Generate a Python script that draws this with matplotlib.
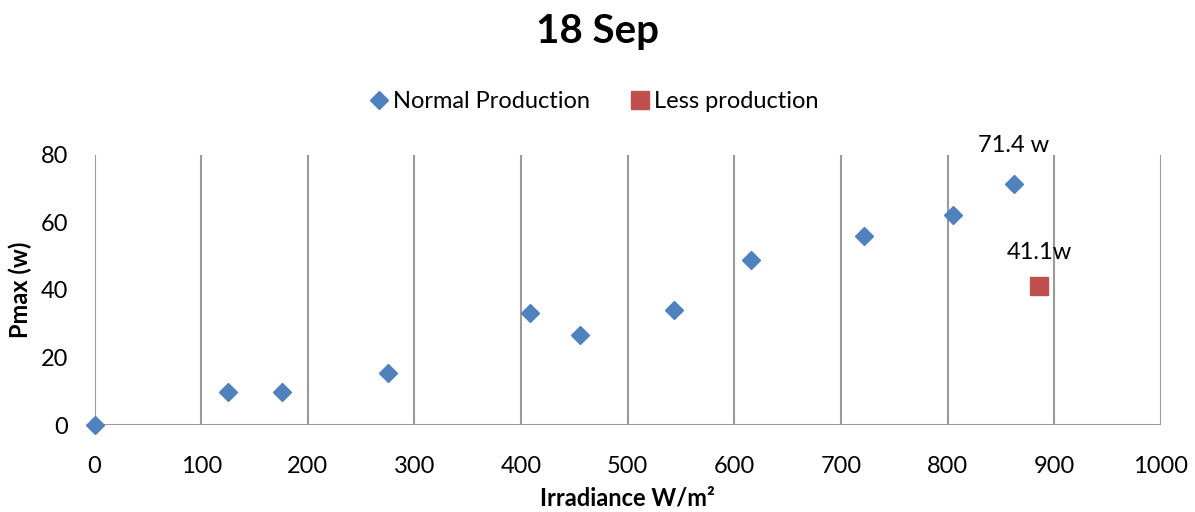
import matplotlib
matplotlib.use("Agg")
import matplotlib.pyplot as plt
from matplotlib.lines import Line2D

plt.rcParams['font.family'] = ['Lato', 'DejaVu Sans']

# Irradiance (W/m²) vs. maximum power (W)
normal_irradiance = [0, 125, 176, 275, 408, 455, 543, 616, 722, 805, 862]
normal_pmax = [0, 9.9, 9.7, 15.5, 33.2, 26.7, 34.0, 48.9, 56.0, 62.2, 71.4]
less_irradiance = [886]
less_pmax = [41.1]

x_ticks = [0, 100, 200, 300, 400, 500, 600, 700, 800, 900, 1000]
y_ticks = [0, 20, 40, 60, 80]

blue = '#4F81BD'
red = '#C0504D'
grid_c = '#9A9A9A'

fig = plt.figure(figsize=(11.95, 5.12), dpi=100)
ax = fig.add_axes([0.0791, 0.1699, 0.8924, 0.5274])

ax.set_xlim(0, 1000)
ax.set_ylim(0, 80)
ax.set_xticks(x_ticks)
ax.set_yticks(y_ticks)

for xv in x_ticks:
    ax.axvline(xv, color=grid_c, lw=1.5, zorder=1)
ax.axhline(0, color=grid_c, lw=1.5, zorder=1)

for s in ax.spines.values():
    s.set_visible(False)

ax.tick_params(axis='both', length=0, labelsize=17)
ax.tick_params(axis='x', pad=22)
ax.tick_params(axis='y', pad=19)

ax.plot(normal_irradiance, normal_pmax, ls='none', marker='D', ms=9.6,
        color=blue, zorder=3, clip_on=False)
ax.plot(less_irradiance, less_pmax, ls='none', marker='s', ms=13,
        color=red, zorder=3, clip_on=False)

ax.annotate(f'{normal_pmax[-1]} w', (normal_irradiance[-1], normal_pmax[-1]),
            xytext=(0, 20), textcoords='offset points', ha='center',
            va='bottom', fontsize=17)
ax.annotate(f'{less_pmax[0]}w', (less_irradiance[0], less_pmax[0]),
            xytext=(0, 17), textcoords='offset points', ha='center',
            va='bottom', fontsize=17)

ax.set_xlabel('Irradiance W/m²', fontsize=17, fontweight='bold', labelpad=7)
ax.set_ylabel('Pmax (w)', fontsize=17, fontweight='bold', labelpad=6)

fig.suptitle('18 Sep', fontsize=29, fontweight='bold', y=0.975)

handles = [
    Line2D([], [], ls='none', marker='D', ms=9.6, color=blue),
    Line2D([], [], ls='none', marker='s', ms=13, color=red),
]
fig.legend(handles, ['Normal Production', 'Less production'], ncol=2,
           loc='center', bbox_to_anchor=(0.496, 0.802), frameon=False,
           fontsize=17, handletextpad=0.1, columnspacing=1.6,
           handlelength=1.0)

fig.savefig('out.png', dpi=100)
